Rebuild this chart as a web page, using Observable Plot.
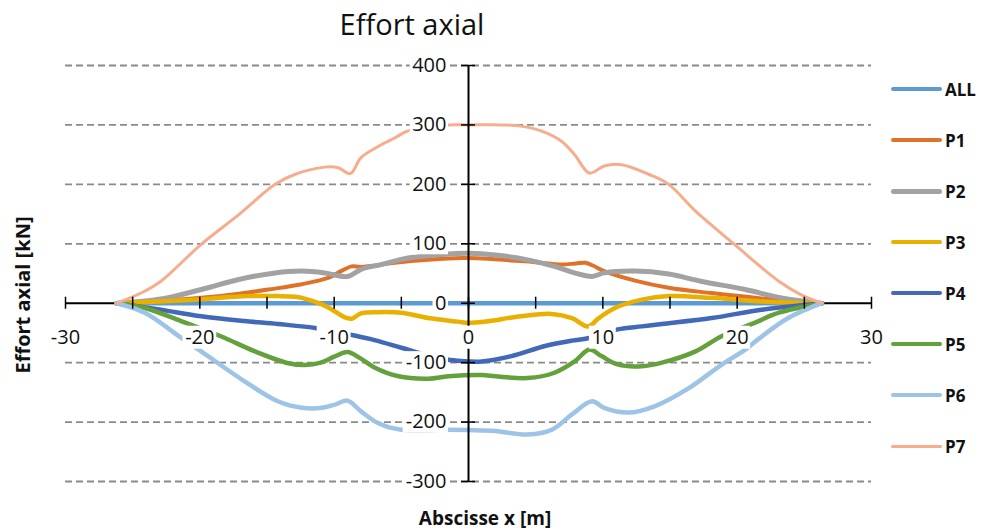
<!DOCTYPE html>
<html><head><meta charset="utf-8">
<script src="https://cdn.jsdelivr.net/npm/d3@7"></script>
<script src="https://cdn.jsdelivr.net/npm/@observablehq/plot@0.6"></script>
<style>
body{margin:0;background:#fff;font-family:"Open Sans",sans-serif;}
#wrap{position:relative;width:984px;height:531px;overflow:hidden;}
#wrap svg{position:absolute;left:0;top:0;}
.title{position:absolute;left:262px;width:300px;top:9px;text-align:center;font-size:29px;line-height:1;color:#111;}
.ytitle{position:absolute;left:22px;top:295px;transform:translate(-50%,-50%) rotate(-90deg);font-weight:bold;font-size:20px;white-space:nowrap;color:#111;}
.xtitle{position:absolute;left:485px;top:518px;transform:translate(-50%,-50%);font-weight:bold;font-size:19px;white-space:nowrap;color:#111;}
.leg{position:absolute;left:891px;height:22px;display:flex;align-items:center;font-weight:bold;font-size:17px;color:#111;}
.leg span.sw{display:inline-block;width:51px;border-radius:3px;margin-right:3px;}
</style></head><body><div id="wrap"></div>
<script>
// ---- data ----
const seriesNames = ["ALL","P1","P2","P3","P4","P5","P6","P7"];
const ALL = [[-26.2,0],[26.3,0]];
const P1 = [[-26.2,0],[-22.9,4],[-19.9,9],[-17.4,15],[-14.9,23],[-12.4,32],[-10.4,43],[-9.5,54],[-8.7,62],[-8.0,61],[-5.5,68],[-3.0,73],[-0.5,76],[1.5,75],[3.2,72],[5.0,69],[6.9,65],[8.0,67],[8.7,68],[9.3,63],[10.1,54],[12.4,38],[14.9,26],[18.1,17],[21.8,8],[24.0,4],[26.3,0]];
const P2 = [[-26.2,0],[-22.9,7],[-19.9,23],[-17.1,40],[-14.4,51],[-12.4,54],[-10.7,51],[-9.0,45],[-8.0,57],[-6.5,65],[-4.5,76],[-1.5,83],[0,84],[2.0,81],[4.4,73],[6.4,62],[7.9,51],[9.2,45],[10.1,51],[12.4,54],[14.9,49],[17.3,37],[20.6,23],[23.3,9],[26.3,0]];
const P3 = [[-26.2,0],[-23.0,3],[-20.4,6],[-16.4,12],[-14.2,12],[-12.9,11],[-12.4,9],[-10.9,-2],[-10.0,-13],[-9.2,-24],[-8.7,-26],[-8.0,-17],[-6.7,-15],[-5.0,-16],[-3.0,-25],[-0.8,-31],[0,-33],[1.2,-31],[3.9,-22],[6.2,-18],[7.7,-25],[8.9,-39],[9.7,-25],[10.9,-8],[12.9,6],[14.9,12],[18.1,9],[21.8,3],[26.3,0]];
const P4 = [[-26.2,0],[-22.9,-11],[-19.9,-22],[-16.7,-30],[-14.2,-35],[-11.3,-42],[-8.6,-54],[-7.0,-62],[-5.0,-75],[-3.0,-88],[-1.5,-95],[0,-98],[1.0,-98],[3.2,-89],[5.7,-72],[7.7,-63],[8.9,-59],[11.1,-44],[12.9,-39],[14.4,-35],[18.1,-25],[21.8,-11],[26.3,0]];
const P5 = [[-26.2,0],[-24.1,-8],[-21.4,-30],[-18.4,-56],[-15.9,-81],[-13.4,-101],[-12.2,-104],[-11.0,-100],[-10.0,-90],[-9.0,-82],[-8.1,-92],[-7.0,-108],[-5.2,-123],[-3.0,-127],[-1.5,-123],[1.0,-121],[2.0,-123],[4.4,-126],[6.4,-117],[7.9,-98],[9.0,-78],[9.9,-89],[11.1,-103],[12.9,-106],[14.4,-100],[16.9,-81],[18.8,-56],[21.3,-33],[23.1,-16],[26.3,0]];
const P6 = [[-26.2,0],[-24.1,-16],[-21.4,-58],[-19.9,-81],[-16.7,-131],[-14.2,-165],[-12.4,-176],[-10.9,-176],[-10.0,-171],[-9.0,-164],[-8.0,-182],[-6.7,-202],[-5.0,-213],[-1.5,-213],[1.0,-214],[2.0,-215],[4.4,-221],[6.2,-213],[7.7,-187],[9.2,-165],[10.1,-176],[11.9,-184],[13.9,-173],[16.4,-143],[18.8,-104],[20.6,-78],[21.6,-60],[23.8,-25],[26.3,0]];
const P7 = [[-26.2,0],[-24.3,18],[-22.9,37],[-19.9,99],[-17.1,149],[-14.4,200],[-12.9,217],[-10.7,229],[-9.7,228],[-8.8,218],[-8.0,245],[-6.7,264],[-5.5,278],[-4.5,290],[-1.5,300],[0,300],[2.5,300],[3.9,298],[5.4,290],[6.9,273],[7.9,250],[9.0,219],[10.1,231],[11.4,233],[13.4,217],[14.9,200],[16.9,155],[19.8,99],[23.1,37],[24.7,15],[26.3,0]];
const seriesData = [ALL,P1,P2,P3,P4,P5,P6,P7];
const colors = ["#5B9BD5","#E07128","#A2A2A2","#E9B000","#4169B8","#64A03C","#9DC3E6","#F5AD8E"];
const widths = [4.5,4,5,4.5,4.5,4.5,4.5,3];
const xTickLabels = [-30,-20,-10,0,10,20,30];
const xTicks = [-30,-25,-20,-15,-10,-5,0,5,10,15,20,25,30];
const yTicks = [-300,-200,-100,0,100,200,300,400];
const title = "Effort axial";
const xTitle = "Abscisse x [m]";
const yTitle = "Effort axial [kN]";

// ---- chart ----
const FONT = "Open Sans";
const FS = 20;
const textW = s => [...s].reduce((w,c) => w + (c === "-" ? 7 : FS*0.572), 0);

const lineMarks = seriesData.map((d,i) => Plot.line(d, {x: p => p[0], y: p => p[1], stroke: colors[i], strokeWidth: widths[i], curve: "catmull-rom", strokeLinecap: "round", strokeLinejoin: "round"}));

const xBoxes = xTickLabels.map(t => {
  const w = textW(String(t));
  return Plot.rect([t], {x1: d => d, x2: d => d, y1: 0, y2: 0, insetLeft: -(w/2 + 2), insetRight: -(w/2 + 2), insetTop: 23, insetBottom: -46, fill: "white"});
});
const yBoxes = yTicks.map(t => {
  const w = textW(String(t));
  return Plot.rect([t], {x1: 0, x2: 0, y1: d => d, y2: d => d, insetLeft: -(24 + w), insetRight: 20, insetTop: -11, insetBottom: -11, fill: "white"});
});

const chart = Plot.plot({
  width: 984, height: 531,
  marginLeft: 65, marginRight: 113, marginTop: 65, marginBottom: 50,
  x: {domain: [-30, 30], axis: null},
  y: {domain: [-300, 400], axis: null},
  style: {fontFamily: FONT, background: "transparent"},
  marks: [
    Plot.ruleY(yTicks.filter(t => t !== 0), {x1: -30, x2: 30, stroke: "#8a8a8a", strokeWidth: 1.8, strokeDasharray: "7 4"}),
    Plot.ruleY([0], {x1: -30, x2: 30, stroke: "black", strokeWidth: 2}),
    ...lineMarks,
    Plot.ruleX([0], {y1: -300, y2: 400, stroke: "black", strokeWidth: 2}),
    Plot.ruleX(xTicks, {x: d => d, y1: 0, y2: 0, insetTop: -6, insetBottom: -6, stroke: "black", strokeWidth: 1.5}),
    Plot.ruleY(yTicks, {y: d => d, x1: 0, x2: 0, insetLeft: -7, insetRight: -7, stroke: "black", strokeWidth: 1.5}),
    ...xBoxes,
    ...yBoxes,
    Plot.text(xTickLabels, {x: d => d, y: 0, dy: 34, text: d => String(d), fontSize: FS, fill: "#111", fontFamily: FONT}),
    Plot.text(yTicks, {x: 0, y: d => d, dx: -22, textAnchor: "end", text: d => String(d), fontSize: FS, fill: "#111", fontFamily: FONT})
  ]
});

const wrap = document.getElementById("wrap");
wrap.appendChild(chart);

const t = document.createElement("div"); t.className = "title"; t.textContent = title; wrap.appendChild(t);
const yt = document.createElement("div"); yt.className = "ytitle"; yt.textContent = yTitle; wrap.appendChild(yt);
const xt = document.createElement("div"); xt.className = "xtitle"; xt.textContent = xTitle; wrap.appendChild(xt);

const legTop = 89, legStep = 51;
seriesNames.forEach((name, i) => {
  const row = document.createElement("div");
  row.className = "leg";
  row.style.top = (legTop + i*legStep - 11) + "px";
  const sw = document.createElement("span");
  sw.className = "sw";
  sw.style.height = widths[i] + "px";
  sw.style.background = colors[i];
  row.appendChild(sw);
  row.appendChild(document.createTextNode(name));
  wrap.appendChild(row);
});
</script>
</body></html>
